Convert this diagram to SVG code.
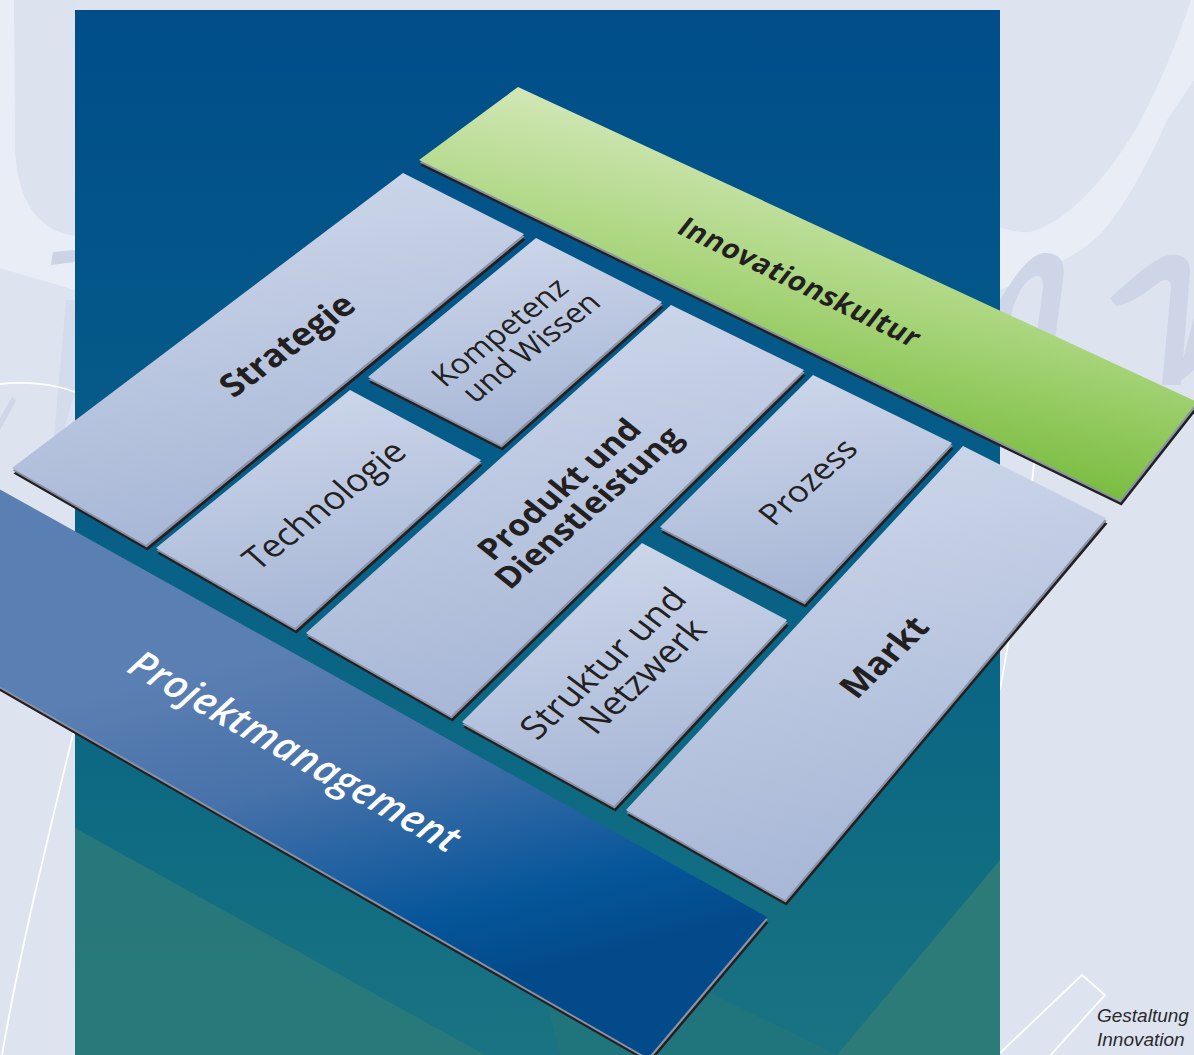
<svg xmlns="http://www.w3.org/2000/svg" xmlns:xlink="http://www.w3.org/1999/xlink" width="1194" height="1055" viewBox="0 0 1194 1055">
  <style>
    .sb { fill: #231f20; }
    .sg { fill: #8a92a5; }
    .tile { fill: url(#tileGrad); }
    .lbl { font-family: 'Open Sans', 'Noto Sans', 'DejaVu Sans', sans-serif; fill: #231f20; text-anchor: middle; }
    .b { font-weight: 700; }
    .deco-light { fill: #e9eef6; }
    .deco-dark { fill: #cdd5e7; }
    .wline { fill: none; stroke: #ffffff; stroke-width: 1.8; }
  </style>
  <defs>
    <linearGradient id="rectGrad" gradientUnits="userSpaceOnUse" x1="0" y1="10" x2="0" y2="1055">
      <stop offset="0" stop-color="#004d8a"/>
      <stop offset="0.45" stop-color="#065d88"/>
      <stop offset="0.75" stop-color="#0d6a82"/>
      <stop offset="1" stop-color="#1a7382"/>
    </linearGradient>
    <linearGradient id="tileGrad" x1="0.3" y1="0" x2="0.5" y2="1">
      <stop offset="0" stop-color="#ced7ea"/>
      <stop offset="1" stop-color="#a6b6d6"/>
    </linearGradient>
    <linearGradient id="greenGrad" gradientUnits="userSpaceOnUse" x1="518" y1="87" x2="462" y2="368">
      <stop offset="0" stop-color="#d1e7b6"/>
      <stop offset="0.5" stop-color="#a9d57c"/>
      <stop offset="1" stop-color="#7abd40"/>
    </linearGradient>
    <linearGradient id="pmGrad" gradientUnits="userSpaceOnUse" x1="330" y1="640" x2="420" y2="1000">
      <stop offset="0" stop-color="#5a7fb2"/>
      <stop offset="0.35" stop-color="#4872aa"/>
      <stop offset="0.8" stop-color="#05559a"/>
      <stop offset="1" stop-color="#034a8a"/>
    </linearGradient>
    <polygon id="p-strategie" points="12,468 403,173 524,234 146,545"/>
    <polygon id="p-kompetenz" points="368,377 536,238 662,302 501,445"/>
    <polygon id="p-technologie" points="156,548 350,390 481,460 295,628"/>
    <polygon id="p-produkt" points="306,633 671,305 804,370 451,716"/>
    <polygon id="p-prozess" points="660,527 813,375 952,443 804,602"/>
    <polygon id="p-struktur" points="462,722 642,543 787,620 614,806"/>
    <polygon id="p-markt" points="626,810 963,446 1106,518 785,900"/>
    <polygon id="p-innovation" points="419,160 518,87 1197,402 1120,500"/>
    <polygon id="p-pm" points="-60,456 767,917 648,1058 -60,652"/>
  </defs>

  <g id="background">
    <rect x="0" y="0" width="1194" height="1055" fill="#dee4ef"/>
    <path class="deco-light" d="M0,0 L75,0 L75,290 L0,268 Z"/>
    <path fill="#dce2ee" d="M14,0 L75,0 L75,236 C45,232 18,210 15,150 Z"/>
    <path fill="#cbd3e5" d="M53,252 L75,250 L75,262 L51,265 Z"/>
    <path fill="#d4dbea" d="M66,300 L75,300 L75,392 L62,437 L54,437 Z"/>
    <path fill="#cfd6e7" d="M0,418 L12,397 L16,401 L0,430 Z"/>
    <path class="wline" d="M0,384 C25,381 55,384 75,392"/>
    <path class="wline" d="M74,730 C45,850 20,950 2,1055"/>
    <path class="deco-light" d="M1191,0 L1194,0 L1194,80 L1167,120 C1150,160 1125,205 1104,230 C1085,250 1065,262 1000,290 L1000,227 C1010,231 1020,233 1030,232 C1060,225 1100,190 1137,127 C1160,85 1178,40 1191,0 Z"/>
    <path class="deco-dark" d="M1000,300 C1015,275 1030,255 1043,253 C1060,252 1066,262 1063,280 L1055,340 L1036,340 L1043,287 C1044,276 1038,273 1030,279 C1020,287 1011,305 1006,340 L1000,340 Z"/>
    <path class="deco-dark" d="M1110,298 C1130,280 1150,262 1165,256 C1180,252 1191,258 1190,272 L1181,385 L1162,385 L1171,287 C1171,279 1165,278 1158,283 C1140,298 1125,305 1116,306 Z"/>
    <path class="deco-dark" d="M1176,385 L1194,318 L1194,370 Z"/>
    <path class="wline" d="M1036,440 C1030,520 1016,600 1000,690"/>
    <polyline class="wline" points="1000,1053 1082,975 1105,995 1048,1058"/>
  </g>

  <g id="panel">
    <rect x="75" y="10" width="925" height="1045" fill="url(#rectGrad)"/>
    <polygon points="75,828 75,1055 485,1055" fill="#2c7a79" opacity="0.85"/>
    <polygon points="520,900 837,1055 560,1055" fill="#237679" opacity="0.7"/>
    <polygon points="1000,860 1000,1055 837,1055" fill="#2d7b78"/>
  </g>

  <g id="connectors"></g>

  <g id="node-projektmanagement">
    <use xlink:href="#p-pm" class="sb" transform="translate(1.5,5.5)"/>
    <use xlink:href="#p-pm" class="sg" transform="translate(0.7,2.6)"/>
    <use xlink:href="#p-pm" fill="url(#pmGrad)"/>
    <text class="lbl" transform="translate(295,751) rotate(29.5) skewX(-6)" y="14" font-size="39" font-weight="600" font-style="italic" style="fill:#ffffff" letter-spacing="0.4">Projektmanagement</text>
  </g>

  <g id="node-innovationskultur">
    <use xlink:href="#p-innovation" class="sb" transform="translate(1.5,5.5)"/>
    <use xlink:href="#p-innovation" class="sg" transform="translate(0.7,2.6)"/>
    <use xlink:href="#p-innovation" fill="url(#greenGrad)"/>
    <text class="lbl b" transform="translate(800,282) rotate(26) skewX(-12)" y="10" font-size="28" letter-spacing="0.6">Innovationskultur</text>
  </g>

  <g id="node-strategie">
    <use xlink:href="#p-strategie" class="sb" transform="translate(1.5,5.5)"/>
    <use xlink:href="#p-strategie" class="sg" transform="translate(0.7,2.6)"/>
    <use xlink:href="#p-strategie" class="tile"/>
    <text class="lbl b" transform="translate(287,345) rotate(-36) skewX(10)" y="12" font-size="34">Strategie</text>
  </g>

  <g id="node-kompetenz">
    <use xlink:href="#p-kompetenz" class="sb" transform="translate(1.5,5.5)"/>
    <use xlink:href="#p-kompetenz" class="sg" transform="translate(0.7,2.6)"/>
    <use xlink:href="#p-kompetenz" class="tile"/>
    <text class="lbl" transform="translate(516,339) rotate(-38) skewX(10)" font-size="30">
      <tspan x="-2" y="-5">Kompetenz</tspan>
      <tspan x="4" y="26">und Wissen</tspan>
    </text>
  </g>

  <g id="node-technologie">
    <use xlink:href="#p-technologie" class="sb" transform="translate(1.5,5.5)"/>
    <use xlink:href="#p-technologie" class="sg" transform="translate(0.7,2.6)"/>
    <use xlink:href="#p-technologie" class="tile"/>
    <text class="lbl" transform="translate(324,505) rotate(-38) skewX(10)" y="12" font-size="34">Technologie</text>
  </g>

  <g id="node-produkt">
    <use xlink:href="#p-produkt" class="sb" transform="translate(1.5,5.5)"/>
    <use xlink:href="#p-produkt" class="sg" transform="translate(0.7,2.6)"/>
    <use xlink:href="#p-produkt" class="tile"/>
    <text class="lbl b" transform="translate(575,497) rotate(-41) skewX(10)" font-size="32">
      <tspan x="0" y="-5">Produkt und</tspan>
      <tspan x="0" y="28">Dienstleistung</tspan>
    </text>
  </g>

  <g id="node-prozess">
    <use xlink:href="#p-prozess" class="sb" transform="translate(1.5,5.5)"/>
    <use xlink:href="#p-prozess" class="sg" transform="translate(0.7,2.6)"/>
    <use xlink:href="#p-prozess" class="tile"/>
    <text class="lbl" transform="translate(808,482) rotate(-42) skewX(10)" y="11" font-size="32">Prozess</text>
  </g>

  <g id="node-struktur">
    <use xlink:href="#p-struktur" class="sb" transform="translate(1.5,5.5)"/>
    <use xlink:href="#p-struktur" class="sg" transform="translate(0.7,2.6)"/>
    <use xlink:href="#p-struktur" class="tile"/>
    <text class="lbl" transform="translate(624,670) rotate(-43) skewX(10)" font-size="35">
      <tspan x="-3" y="-7">Struktur und</tspan>
      <tspan x="6" y="29">Netzwerk</tspan>
    </text>
  </g>

  <g id="node-markt">
    <use xlink:href="#p-markt" class="sb" transform="translate(1.5,5.5)"/>
    <use xlink:href="#p-markt" class="sg" transform="translate(0.7,2.6)"/>
    <use xlink:href="#p-markt" class="tile"/>
    <text class="lbl b" transform="translate(884,657) rotate(-44) skewX(10)" y="12" font-size="34">Markt</text>
  </g>

  <g id="caption">
    <text x="1097" y="1022" font-family="'Liberation Sans', Arial, sans-serif" font-style="italic" font-size="19" fill="#2a2a2e">Gestaltung</text>
    <text x="1097" y="1046" font-family="'Liberation Sans', Arial, sans-serif" font-style="italic" font-size="19" fill="#2a2a2e">Innovation</text>
  </g>
</svg>
